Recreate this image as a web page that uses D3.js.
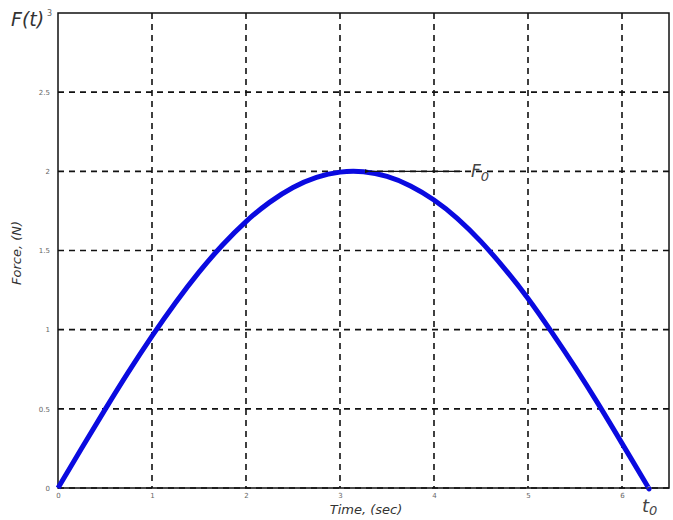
<!DOCTYPE html>
<html><head><meta charset="utf-8">
<script src="https://cdn.jsdelivr.net/npm/d3@7"></script>
<style>body{margin:0;background:#fff}svg{display:block}</style>
</head><body>
<svg id="chart" width="673" height="520"></svg>
<script>
const timeValues = [0,0.25,0.5,0.75,1,1.25,1.5,1.75,2,2.25,2.5,2.75,3,3.25,3.5,3.75,4,4.25,4.5,4.75,5,5.25,5.5,5.75,6,6.25,6.28];
const forceValues = [0,0.25,0.495,0.733,0.959,1.17,1.363,1.535,1.683,1.804,1.898,1.962,1.995,1.997,1.968,1.908,1.819,1.702,1.556,1.386,1.197,0.986,0.763,0.528,0.282,0.033,0];
const xTicks = [0,1,2,3,4,5,6];
const yTicks = [0,0.5,1,1.5,2,2.5,3];
const yTickLabels = ["0","0.5","1","1.5","2","2.5","3"];
const peakTime = 3.25, peakForce = 2.0;

const svg = d3.select("#chart");
const m = {l:58, t:13, r:669, b:488};
const x = d3.scaleLinear().domain([0,6.5]).range([m.l,m.r]);
const y = d3.scaleLinear().domain([0,3]).range([m.b,m.t]);

// grid
const g = svg.append("g");
g.selectAll(".vg").data(xTicks.filter(d=>d>0)).join("line")
  .attr("x1",d=>x(d)).attr("x2",d=>x(d)).attr("y1",m.t).attr("y2",m.b)
  .attr("stroke","#111").attr("stroke-width",1.6).attr("stroke-dasharray","6,5");
g.selectAll(".hg").data(yTicks.filter(d=>d<3)).join("line")
  .attr("y1",d=>y(d)).attr("y2",d=>y(d)).attr("x1",m.l).attr("x2",m.r)
  .attr("stroke","#111").attr("stroke-width",1.6).attr("stroke-dasharray","6,5");

// frame
svg.append("rect").attr("x",m.l).attr("y",m.t).attr("width",m.r-m.l).attr("height",m.b-m.t)
  .attr("fill","none").attr("stroke","#111").attr("stroke-width",1.5);

// axes tick labels
const xAxis = d3.axisBottom(x).tickValues(xTicks).tickSize(0).tickPadding(5).tickFormat(d3.format("d"));
const ax = svg.append("g").attr("transform",`translate(0,${m.b})`).call(xAxis);
ax.select(".domain").remove();
ax.selectAll("text").attr("font-size",7).attr("fill","#666").attr("font-family","DejaVu Sans");
const yAxis = d3.axisLeft(y).tickValues(yTicks).tickSize(0).tickPadding(8).tickFormat((d,i)=>yTickLabels[i]);
const ay = svg.append("g").attr("transform",`translate(${m.l},0)`).call(yAxis);
ay.select(".domain").remove();
ay.selectAll("text").attr("font-size",7).attr("fill","#666").attr("font-family","DejaVu Sans");
ay.selectAll(".tick").filter(d=>d===3).select("text").attr("font-size",8).attr("dx",2);

// curve
const pts = timeValues.map((t,i)=>[t,forceValues[i]]);
svg.append("path").datum(pts)
  .attr("d", d3.line().x(d=>x(d[0])).y(d=>y(d[1])).curve(d3.curveNatural))
  .attr("fill","none").attr("stroke","#0a0ae0").attr("stroke-width",5).attr("stroke-linejoin","round");

// annotation arrow
svg.append("defs").append("marker").attr("id","ah").attr("viewBox","0 0 10 10")
  .attr("refX",1).attr("refY",5).attr("markerWidth",4).attr("markerHeight",4).attr("orient","auto")
  .append("path").attr("d","M10,1 L0,5 L10,9 Z").attr("fill","#111");
svg.append("line").attr("x1",462).attr("x2",x(peakTime)+6).attr("y1",y(peakForce)).attr("y2",y(peakForce))
  .attr("stroke","#111").attr("stroke-width",1.3).attr("marker-end","url(#ah)");
const f0 = svg.append("text").attr("x",471).attr("y",y(peakForce)+6).attr("font-family","DejaVu Sans")
  .attr("font-style","italic").attr("font-size",17).attr("fill","#444");
f0.append("tspan").text("F");
f0.append("tspan").attr("font-size",13).attr("dy",4).text("0");

// labels
svg.append("text").attr("x",11).attr("y",26).attr("font-family","DejaVu Sans").attr("font-style","italic")
  .attr("font-size",19).attr("fill","#333").text("F(t)");
const t0 = svg.append("text").attr("x",642).attr("y",512).attr("font-family","DejaVu Sans")
  .attr("font-style","italic").attr("font-size",18).attr("fill","#444");
t0.append("tspan").text("t");
t0.append("tspan").attr("font-size",13).attr("dy",3).text("0");
svg.append("text").attr("x",366).attr("y",514).attr("text-anchor","middle").attr("font-family","DejaVu Sans")
  .attr("font-style","italic").attr("font-size",13).attr("fill","#333").text("Time, (sec)");
svg.append("text").attr("transform","translate(21,253) rotate(-90)").attr("text-anchor","middle")
  .attr("font-family","DejaVu Sans").attr("font-style","italic").attr("font-size",13).attr("fill","#333").text("Force, (N)");
</script>
</body></html>
